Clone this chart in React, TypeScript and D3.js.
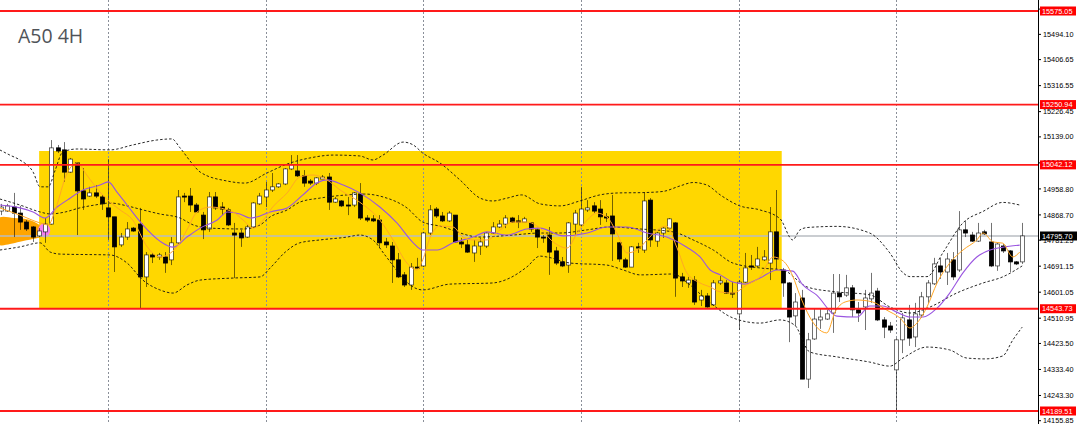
import React from "react";
import * as d3 from "d3";

const WIDTH = 1080;
const HEIGHT = 424;
const AXIS_X = 1038;

// ---- candle data (A50, 4H) ----
const opens = [
  14882, 14882, 14896, 14875, 14844, 14827, 14796, 14810, 14837, 15101,
  15094, 15017, 15049, 14952, 14934, 14945, 14931, 14893, 14862, 14765,
  14792, 14823, 14837, 14654, 14730, 14723, 14723, 14713, 14772, 14934,
  14934, 14903, 14868, 14820, 14931, 14896, 14886, 14806, 14806, 14792,
  14827, 14907, 14931, 14955, 14966, 14976, 15028, 15021, 15004, 14986,
  14979, 14993, 15000, 14913, 14917, 14903, 14903, 14941, 14858, 14855,
  14851, 14775, 14761, 14713, 14661, 14626, 14688, 14692, 14806, 14889,
  14865, 14848, 14868, 14775, 14765, 14737, 14761, 14761, 14806, 14827,
  14837, 14858, 14848, 14844, 14841, 14817, 14792, 14799, 14744, 14706,
  14695, 14837, 14834, 14886, 14900, 14889, 14862, 14865, 14772, 14713,
  14688, 14758, 14747, 14920, 14778, 14806, 14823, 14841, 14654, 14633,
  14643, 14574, 14588, 14557, 14633, 14633, 14598, 14526, 14636, 14692,
  14692, 14713, 14702, 14810, 14678, 14633, 14519, 14581, 14300, 14439,
  14505, 14508, 14529, 14598, 14591, 14616, 14540, 14550, 14578, 14605,
  14505, 14484, 14332, 14436, 14505, 14446, 14522, 14585, 14630, 14692,
  14671, 14713, 14678, 14817, 14799, 14778, 14810, 14775, 14692, 14761,
  14744, 14706, 14706,
];
const highs = [
  14907, 14907, 14945, 14900, 14851, 14830, 14823, 14858, 15128, 15111,
  15121, 15066, 15052, 15031, 14966, 14972, 14938, 15062, 14862, 14806,
  14844, 14827, 14893, 14740, 14737, 14737, 14740, 14792, 14955, 14945,
  14962, 14910, 14879, 14948, 14948, 14913, 14893, 14841, 14817, 14834,
  14913, 14945, 14983, 15014, 14979, 15031, 15076, 15076, 15024, 14993,
  15000, 15007, 15014, 14931, 14920, 14931, 14948, 14979, 14868, 14868,
  14868, 14789, 14775, 14737, 14671, 14702, 14720, 14810, 14903, 14896,
  14879, 14882, 14868, 14789, 14782, 14782, 14789, 14810, 14844, 14851,
  14868, 14862, 14868, 14862, 14844, 14823, 14799, 14827, 14758, 14723,
  14844, 14886, 14966, 14920, 14913, 14920, 14875, 14938, 14775, 14720,
  14761, 14772, 14948, 14927, 14810, 14827, 14858, 14844, 14668, 14654,
  14657, 14609, 14598, 14643, 14657, 14643, 14636, 14643, 14737, 14730,
  14758, 14747, 14896, 14955, 14685, 14636, 14598, 14609, 14460, 14546,
  14546, 14540, 14664, 14664, 14661, 14626, 14567, 14609, 14668, 14616,
  14515, 14498, 14442, 14529, 14557, 14564, 14602, 14643, 14720, 14720,
  14737, 14740, 14882, 14848, 14810, 14841, 14817, 14841, 14771, 14768,
  14747, 14709, 14841,
];
const lows = [
  14868, 14879, 14792, 14817, 14813, 14775, 14792, 14772, 14835, 15083,
  14983, 15014, 14799, 14886, 14931, 14927, 14886, 14782, 14671, 14758,
  14782, 14810, 14543, 14619, 14702, 14713, 14668, 14695, 14768, 14913,
  14879, 14875, 14785, 14810, 14886, 14868, 14830, 14650, 14758, 14789,
  14823, 14903, 14896, 14948, 14962, 14972, 15024, 15000, 14966, 14972,
  14972, 14993, 14886, 14910, 14896, 14868, 14896, 14851, 14844, 14844,
  14754, 14754, 14633, 14650, 14619, 14609, 14685, 14688, 14799, 14858,
  14844, 14844, 14772, 14754, 14737, 14706, 14730, 14754, 14803, 14823,
  14823, 14841, 14823, 14844, 14810, 14754, 14772, 14661, 14695, 14688,
  14668, 14799, 14827, 14879, 14875, 14834, 14844, 14709, 14706, 14685,
  14688, 14737, 14737, 14758, 14758, 14789, 14817, 14585, 14619, 14616,
  14557, 14553, 14547, 14553, 14626, 14595, 14581, 14470, 14633, 14678,
  14688, 14709, 14643, 14678, 14585, 14428, 14484, 14300, 14269, 14436,
  14474, 14505, 14460, 14567, 14585, 14515, 14498, 14470, 14564, 14501,
  14442, 14460, 14193, 14390, 14415, 14411, 14512, 14564, 14626, 14647,
  14626, 14643, 14671, 14792, 14775, 14775, 14799, 14688, 14675, 14737,
  14671, 14695, 14699,
];
const closes = [
  14896, 14900, 14875, 14844, 14820, 14792, 14813, 14837, 15101, 15090,
  15017, 15062, 14952, 14924, 14945, 14934, 14907, 14862, 14758, 14792,
  14820, 14813, 14654, 14730, 14723, 14730, 14702, 14772, 14931, 14931,
  14903, 14879, 14817, 14931, 14893, 14889, 14834, 14799, 14789, 14827,
  14910, 14934, 14955, 14966, 14976, 15028, 15042, 15004, 14979, 14979,
  14997, 15000, 14913, 14924, 14900, 14900, 14945, 14858, 14851, 14848,
  14772, 14765, 14713, 14654, 14626, 14688, 14685, 14806, 14886, 14865,
  14848, 14875, 14775, 14768, 14740, 14761, 14775, 14806, 14827, 14837,
  14858, 14844, 14844, 14855, 14820, 14792, 14789, 14740, 14702, 14692,
  14841, 14875, 14889, 14893, 14882, 14862, 14858, 14803, 14716, 14688,
  14758, 14754, 14917, 14782, 14806, 14823, 14855, 14650, 14640, 14643,
  14567, 14588, 14550, 14633, 14640, 14598, 14595, 14636, 14685, 14688,
  14716, 14723, 14810, 14716, 14633, 14515, 14567, 14300, 14436, 14508,
  14515, 14526, 14598, 14585, 14616, 14540, 14529, 14581, 14598, 14505,
  14480, 14470, 14436, 14512, 14442, 14526, 14585, 14633, 14699, 14671,
  14716, 14654, 14817, 14806, 14778, 14806, 14803, 14692, 14768, 14744,
  14706, 14699, 14796,
];

// ---- indicator lines as [bar index, price] ----
const bbUpper: [number, number][] = [
  [-0.2, 15094], [1.4, 15076], [3, 15059], [5.1, 15017], [6.2, 14966], [7.5, 14966],
  [8.6, 15024], [9.8, 15087], [12.1, 15097], [17.3, 15094], [20.9, 15111], [24.7, 15128],
  [27.1, 15132], [28.4, 15101], [30.5, 15042], [31.6, 15017], [35.9, 14986], [38.7, 14979],
  [42.2, 15014], [45.4, 15045], [49, 15066], [52.7, 15076], [56.9, 15073], [59, 15059],
  [60.6, 15076], [63.8, 15121], [65.4, 15111], [66.9, 15083], [69.6, 15049], [72.8, 14990],
  [76, 14927], [78, 14917], [80.3, 14927], [82.6, 14938], [85.5, 14907], [88.7, 14900],
  [91.8, 14917], [95, 14938], [98.2, 14945], [101.8, 14946], [105, 14950], [107.7, 14969],
  [109.8, 14981], [112, 14972], [114.1, 14938], [117.2, 14900], [120.4, 14886], [123.6, 14855],
  [125.6, 14782], [126.7, 14816], [127.9, 14825], [132.6, 14829], [137.8, 14806], [141, 14737],
  [143.1, 14668], [144.2, 14655], [146.9, 14655], [149.4, 14737], [152.6, 14841], [155.8, 14881],
  [158.9, 14912], [161.6, 14903],
];
const bbMiddle: [number, number][] = [
  [-0.2, 14924], [3, 14903], [6.2, 14879], [7.8, 14872], [10.2, 14879], [12.5, 14893],
  [14.9, 14903], [17.3, 14910], [20, 14900], [22.5, 14886], [25.2, 14872], [28.4, 14858],
  [30.5, 14834], [33.2, 14823], [38.4, 14820], [41.1, 14834], [42.7, 14862], [45.4, 14886],
  [47.4, 14913], [50.6, 14927], [54.9, 14938], [57.7, 14941], [60.6, 14931], [64.4, 14893],
  [66.9, 14844], [69.6, 14830], [76, 14792], [81.2, 14799], [85.5, 14806], [88.7, 14806],
  [93, 14817], [96.6, 14827], [101.4, 14820], [106.6, 14810], [109.8, 14782], [113, 14747],
  [116.1, 14702], [120.4, 14685], [124, 14678], [127.9, 14619], [132.6, 14602], [137.8, 14592],
  [141, 14550], [144.2, 14529], [147.4, 14550], [151.6, 14598], [155.8, 14633], [158.9, 14654],
  [162, 14692],
];
const bbLower: [number, number][] = [
  [-0.2, 14747], [3, 14758], [6.2, 14772], [7.8, 14740], [9.4, 14733], [17.3, 14730],
  [20, 14702], [22.5, 14643], [25.2, 14609], [27.3, 14598], [29.5, 14626], [31.6, 14643],
  [36.8, 14650], [41.1, 14654], [42.7, 14685], [45.1, 14740], [47.4, 14772], [50.6, 14782],
  [54.9, 14792], [56.9, 14799], [59, 14782], [60.9, 14730], [63, 14671], [64.9, 14626],
  [66.9, 14609], [71.2, 14629], [78, 14633], [80.7, 14650], [83.4, 14688], [85.5, 14726],
  [86.6, 14723], [90.3, 14702], [96.1, 14695], [98.7, 14678], [101.4, 14661], [106.6, 14664],
  [109.3, 14626], [112, 14574], [116.1, 14512], [120.4, 14494], [123.6, 14505], [125.9, 14487],
  [128.3, 14394], [132.6, 14377], [137.8, 14359], [141, 14345], [143.1, 14373], [146.9, 14411],
  [150.5, 14401], [153.2, 14373], [156.1, 14370], [158.9, 14380], [160.5, 14435], [162, 14480],
];
const maSlow: [number, number][] = [
  [-0.2, 14903], [3, 14893], [5.1, 14879], [7, 14858], [8.9, 14896], [10.5, 14920],
  [13, 14955], [15.7, 14972], [17, 14983], [18.4, 14948], [20, 14903], [22.5, 14834],
  [25.2, 14778], [27.3, 14757], [29.5, 14792], [31.6, 14823], [34.3, 14851], [35.9, 14879],
  [37.9, 14872], [39.5, 14858], [41.1, 14865], [42.7, 14879], [45.4, 14893], [47.9, 14938],
  [50.1, 14979], [51.7, 14990], [54.3, 14972], [56.9, 14945], [60.1, 14896], [62.8, 14841],
  [65.4, 14772], [66.9, 14747], [69.2, 14747], [71.7, 14772], [74.9, 14792], [77.1, 14810],
  [80.3, 14799], [83.4, 14820], [85.5, 14823], [89.2, 14796], [93, 14806], [96.1, 14827],
  [99.3, 14827], [102.5, 14806], [105.6, 14792], [108.8, 14757], [110.9, 14723], [112.5, 14678],
  [114.1, 14661], [116.1, 14636], [118, 14629], [120.4, 14650], [123.1, 14678], [125.6, 14674],
  [127.2, 14626], [129.4, 14591], [132.6, 14518], [135.8, 14515], [137.8, 14553], [139.9, 14553],
  [142.1, 14532], [144.2, 14515], [146.3, 14515], [148.5, 14546], [150.5, 14598], [152.6, 14668],
  [154.8, 14723], [156.9, 14747], [158.9, 14757], [161.6, 14764],
];
const maFast: [number, number][] = [
  [-0.2, 14893], [3, 14868], [6.2, 14841], [7.5, 14834], [8.6, 14886], [10.5, 15014],
  [12.1, 15049], [13.6, 15007], [15.7, 14948], [17.3, 14913], [18.9, 14886], [20.9, 14851],
  [23.2, 14758], [25.2, 14723], [27.9, 14758], [29.5, 14817], [31.1, 14879], [33.2, 14896],
  [36.8, 14879], [38.4, 14851], [40, 14823], [41.6, 14851], [43.1, 14896], [45.4, 14945],
  [47.4, 15000], [49.5, 15007], [51.7, 14990], [53.8, 14955], [56.9, 14913], [60.1, 14851],
  [62.2, 14782], [64.4, 14702], [66, 14678], [66.9, 14713], [68.1, 14792], [69.6, 14830],
  [71.7, 14827], [73.3, 14792], [74.9, 14782], [77.1, 14782], [79.2, 14817], [81.2, 14844],
  [83.4, 14844], [85.5, 14823], [87.6, 14775], [89.8, 14754], [91.4, 14806], [93, 14851],
  [94.5, 14875], [96.1, 14862], [97.7, 14806], [99.3, 14737], [100.9, 14747], [102.5, 14782],
  [104.1, 14817], [105.6, 14830], [107.2, 14757], [108.8, 14668], [110.9, 14633], [112.5, 14619],
  [114.1, 14602], [116.1, 14598], [118.3, 14626], [120.4, 14654], [122.5, 14723], [124.1, 14709],
  [125.6, 14657], [126.7, 14592], [128.3, 14515], [129.4, 14480], [131, 14460], [132.3, 14532],
  [133.9, 14567], [135.8, 14574], [138.3, 14567], [140.5, 14539], [142.6, 14512], [144.2, 14477],
  [145.3, 14494], [146.9, 14550], [148.5, 14633], [150.5, 14702], [152.6, 14747], [154.8, 14782],
  [155.8, 14806], [157.4, 14775], [158.9, 14771], [160.5, 14723], [161.6, 14740],
];

// ---- annotations ----
const zoneStartIdx = 6.05;
const zoneEndIdx = 123.85;
const zoneTop = 15090.1;
const zoneBottom = 14543.73;
const orangeShape: [number, number][] = [
  [-0.3, 14858], [2.06, 14858], [4.28, 14853], [5.55, 14842], [6.5, 14827], [7.14, 14811],
  [6.5, 14794], [5.08, 14785], [3.01, 14776], [1.43, 14768], [-0.3, 14766],
];
const pinkMark = { idx: 6.85, price: 14815 };

const levels = [15575.05, 15250.94, 15042.12, 14543.73, 14189.51];
const bidPrice = 14795.7;
const tickLabels = [
  "15581.60", "15494.10", "15406.65", "15316.55", "15226.45", "15139.00", "15048.90",
  "14958.80", "14868.70", "14781.25", "14691.15", "14601.05", "14510.95", "14423.50",
  "14333.40", "14243.30", "14155.85",
];
const gridIdx = [17, 42, 67, 92, 117, 142];
const title = "A50 4H";

const xScale = d3.scaleLinear().domain([0, 162]).range([1, 1022.2]);
const yScale = d3.scaleLinear().domain([14189.51, 15575.05]).range([411, 11]);

export default function App() {
  const line = d3
    .line<[number, number]>()
    .x((d) => xScale(d[0]))
    .y((d) => yScale(d[1]))
    .curve(d3.curveMonotoneX);
  const poly = d3
    .line<[number, number]>()
    .x((d) => xScale(d[0]))
    .y((d) => yScale(d[1]))
    .curve(d3.curveCatmullRomClosed);

  const bodyW = 4;
  const candles = opens.map((o, i) => {
    const h = highs[i];
    const l = lows[i];
    const c = closes[i];
    const x = Math.round(xScale(i)) + 0.5;
    const up = c >= o;
    const yTop = yScale(Math.max(o, c));
    const yBot = yScale(Math.min(o, c));
    const bh = Math.max(1, yBot - yTop);
    return (
      <g key={i}>
        <line x1={x} x2={x} y1={yScale(h)} y2={yScale(l)} stroke="#000" strokeOpacity={0.55} strokeWidth={1} />
        <rect
          x={x - bodyW / 2}
          y={yTop}
          width={bodyW}
          height={bh}
          fill={up ? "#ffffff" : "#000000"}
          stroke="#000"
          strokeOpacity={up ? 0.7 : 1}
          strokeWidth={0.8}
        />
      </g>
    );
  });

  const font = "'Liberation Sans', Arial, sans-serif";

  return (
    <svg
      width={WIDTH}
      height={HEIGHT}
      viewBox={`0 0 ${WIDTH} ${HEIGHT}`}
      style={{ position: "absolute", left: 0, top: 0, display: "block" }}
    >
      <defs>
        <clipPath id="plotArea">
          <rect x={0} y={0} width={AXIS_X} height={HEIGHT} />
        </clipPath>
      </defs>
      <rect x={0} y={0} width={WIDTH} height={HEIGHT} fill="#ffffff" />
      <g clipPath="url(#plotArea)">
        {/* supply/demand zone */}
        <rect
          x={xScale(zoneStartIdx)}
          y={yScale(zoneTop)}
          width={xScale(zoneEndIdx) - xScale(zoneStartIdx)}
          height={yScale(zoneBottom) - yScale(zoneTop)}
          fill="#ffd700"
        />
        <path d={poly(orangeShape) || ""} fill="#ffa500" />
        <ellipse
          cx={xScale(pinkMark.idx)}
          cy={yScale(pinkMark.price)}
          rx={6}
          ry={7}
          fill="#f47ef0"
        />
        {/* vertical grid */}
        {gridIdx.map((g) => (
          <line
            key={g}
            x1={Math.round(xScale(g)) + 0.5}
            x2={Math.round(xScale(g)) + 0.5}
            y1={0}
            y2={HEIGHT}
            stroke="#8a8f99"
            strokeWidth={1}
            strokeDasharray="2,2"
          />
        ))}
        {/* bid line */}
        <line x1={0} x2={AXIS_X} y1={yScale(bidPrice)} y2={yScale(bidPrice)} stroke="#b8bcc2" strokeWidth={1.4} />
        {candles}
        {/* bollinger bands */}
        {[bbUpper, bbMiddle, bbLower].map((s, k) => (
          <path
            key={k}
            d={line(s) || ""}
            fill="none"
            stroke="#111"
            strokeWidth={0.9}
            strokeDasharray="2.5,2"
          />
        ))}
        <path d={line(maSlow) || ""} fill="none" stroke="#9a55e0" strokeWidth={1.1} />
        <path d={line(maFast) || ""} fill="none" stroke="#ffa726" strokeWidth={1} />
        {/* horizontal levels */}
        {levels.map((v) => (
          <line key={v} x1={0} x2={AXIS_X} y1={yScale(v)} y2={yScale(v)} stroke="#ff1a1a" strokeWidth={1.8} />
        ))}
      </g>
      <text x={18} y={43} fontFamily="'Open Sans', sans-serif" fontSize={19.5} fill="#4f5358">
        {title}
      </text>
      {/* price axis */}
      <rect x={AXIS_X} y={0} width={WIDTH - AXIS_X} height={HEIGHT} fill="#ffffff" />
      <line x1={AXIS_X + 0.5} x2={AXIS_X + 0.5} y1={0} y2={HEIGHT} stroke="#000" strokeWidth={1} />
      {tickLabels.map((t) => {
        const y = yScale(parseFloat(t));
        return (
          <g key={t}>
            <line x1={AXIS_X} x2={AXIS_X + 3} y1={y} y2={y} stroke="#000" strokeWidth={1} />
            <text x={1043} y={y + 2.6} fontFamily={font} fontSize={7.3} fill="#000">
              {t}
            </text>
          </g>
        );
      })}
      {levels.map((v) => {
        const y = yScale(v);
        return (
          <g key={v}>
            <rect x={1040} y={y - 4.5} width={36} height={9} fill="#ff0000" />
            <text x={1042} y={y + 2.6} fontFamily={font} fontSize={7.3} fill="#ffffff">
              {v.toFixed(2)}
            </text>
          </g>
        );
      })}
      <g>
        <rect x={1040} y={yScale(bidPrice) - 4.5} width={37} height={9} fill="#000000" />
        <text x={1042} y={yScale(bidPrice) + 2.6} fontFamily={font} fontSize={7.3} fill="#ffffff">
          {bidPrice.toFixed(2)}
        </text>
      </g>
    </svg>
  );
}
